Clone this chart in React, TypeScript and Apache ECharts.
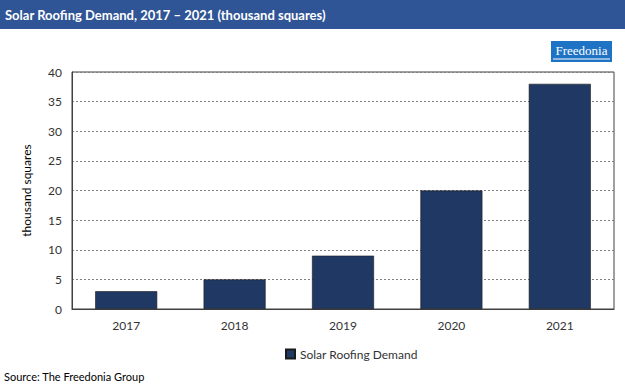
import React, { useEffect, useRef } from "react";
import * as echarts from "echarts";

const categories = ["2017", "2018", "2019", "2020", "2021"];
const values = [3, 5, 9, 20, 38];
const seriesName = "Solar Roofing Demand";
const titleText = "Solar Roofing Demand, 2017 – 2021 (thousand squares)";
const yAxisName = "thousand squares";
const sourceText = "Source: The Freedonia Group";

const FONT = "Lato, 'Open Sans', sans-serif";

export default function App() {
  const ref = useRef<HTMLDivElement>(null);
  useEffect(() => {
    if (!ref.current) return;
    const chart = echarts.init(ref.current, null, { renderer: "svg" });
    chart.setOption({
      animation: false,
      backgroundColor: "#ffffff",
      textStyle: { fontFamily: FONT },
      grid: {
        left: 72,
        right: 11,
        top: 72,
        bottom: 78,
        show: true,
        borderColor: "#404040",
        borderWidth: 1,
        containLabel: false,
      },
      legend: {
        data: [seriesName],
        top: 343,
        left: 280,
        itemWidth: 9,
        itemHeight: 9,
        itemGap: 4,
        icon: "rect",
        textStyle: { fontFamily: FONT, fontSize: 12, color: "#333333" },
      },
      xAxis: {
        type: "category",
        data: categories,
        axisLine: { lineStyle: { color: "#404040", width: 1 } },
        axisTick: { show: false },
        axisLabel: { fontFamily: FONT, fontSize: 12, color: "#333333", margin: 10 },
      },
      yAxis: {
        type: "value",
        min: 0,
        max: 40,
        interval: 5,
        name: yAxisName,
        nameLocation: "middle",
        nameGap: 40,
        nameTextStyle: { fontFamily: FONT, fontSize: 12, color: "#000000" },
        axisLine: { show: true, lineStyle: { color: "#404040", width: 1 } },
        axisTick: { show: false },
        axisLabel: { fontFamily: FONT, fontSize: 12, color: "#333333", margin: 10 },
        splitLine: { lineStyle: { color: "#808080", type: [2, 2], width: 1 } },
      },
      series: [
        {
          name: seriesName,
          type: "bar",
          data: values,
          barWidth: 62,
          itemStyle: { color: "#203864", borderColor: "#1a1a1a", borderWidth: 0.6 },
        },
      ],
      graphic: [
        {
          type: "rect",
          shape: { x: 0, y: 0, width: 625, height: 29 },
          style: { fill: "#2F5597" },
          silent: true,
        },
        {
          type: "text",
          x: 5,
          y: 15,
          style: {
            text: titleText,
            fill: "#ffffff",
            font: `bold 13px ${FONT}`,
            verticalAlign: "middle",
          },
        },
        {
          type: "rect",
          shape: { x: 551, y: 41, width: 61, height: 21 },
          style: { fill: "#1F73C4" },
        },
        {
          type: "text",
          x: 581.5,
          y: 50,
          style: {
            text: "Freedonia",
            fill: "#ffffff",
            font: "13px 'Liberation Serif', 'DejaVu Serif', serif",
            align: "center",
            verticalAlign: "middle",
          },
        },
        {
          type: "line",
          shape: { x1: 553, y1: 59, x2: 610, y2: 59 },
          style: { stroke: "#ffffff", lineWidth: 1 },
        },
        {
          type: "text",
          x: 4,
          y: 376,
          style: {
            text: sourceText,
            fill: "#000000",
            font: `11px ${FONT}`,
            verticalAlign: "middle",
          },
        },
      ],
    });
    return () => chart.dispose();
  }, []);
  return <div ref={ref} style={{ width: 625, height: 387, position: "absolute", left: 0, top: 0 }} />;
}
